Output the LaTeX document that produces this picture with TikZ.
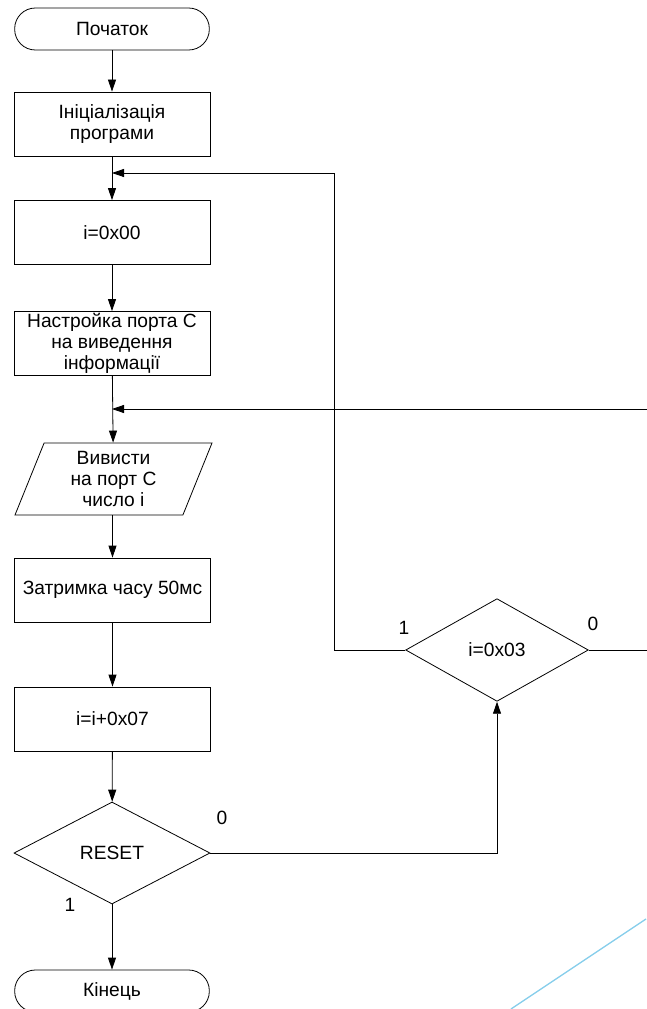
\documentclass[tikz,border=0pt]{standalone}
\usepackage{fontspec}
\setmainfont{Liberation Sans}
\usetikzlibrary{shapes.geometric,arrows.meta}

\begin{document}
\begin{tikzpicture}[x=0.75pt,y=-0.75pt,
    font=\fontsize{14.4}{15.5}\selectfont,
    every path/.style={line width=0.6pt},
    blok/.style={draw, rectangle, minimum width=147pt, minimum height=48pt, align=center, inner sep=0pt},
    termin/.style={draw, rectangle, rounded corners=15.5pt, minimum width=146pt, minimum height=31.5pt, inner sep=0pt},
    vyvid/.style={draw, trapezium, trapezium left angle=62, trapezium right angle=118, trapezium stretches body,
        minimum width=147.75pt, minimum height=54pt, align=center, inner sep=0pt},
    umova/.style={draw, diamond, minimum width=147pt, minimum height=76.5pt, inner sep=0pt},
    strilka/.style={-{Triangle[length=9pt,width=6pt]}},
    mitka/.style={inner sep=0pt}]
    \useasboundingbox (0,0) rectangle (646,1009);

    % Блоки основної гілки
    \node[termin] (start) at (112,29) {Початок};
    \node[blok] (init) at (112,124) {Ініціалізація\\програми};
    \node[blok] (nul) at (112,232.5) {i=0x00};
    \node[blok] (port) at (112,343.5) {Настройка порта С\\на виведення\\інформації};
    \node[vyvid] (out) at (113.5,479) {Вивисти\\на порт С\\число і};
    \node[blok] (delay) at (112.5,590) {Затримка часу 50мс};
    \node[blok] (add) at (112.5,719) {i=i+0x07};
    \node[umova] (reset) at (112,853) {RESET};
    \node[termin] (kin) at (112,991) {Кінець};

    % Перевірка i
    \node[umova, minimum width=137pt, minimum height=77pt] (cmp) at (497,650) {i=0x03};

    % Мітки виходів
    \node[mitka] (r0) at (222,818) {0};
    \node[mitka] (r1) at (70,905) {1};
    \node[mitka] (c1) at (404,628) {1};
    \node[mitka] (c0) at (593,624) {0};

    % Точки з'єднання
    \coordinate (jn1) at (112,173);
    \coordinate (jn2) at (112,409);
    \coordinate (loop1) at (334,173);
    \coordinate (loop2) at (652,409);

    % Зв'язки
    \draw[strilka] (start) -- (init);
    \draw[strilka] (init) -- (nul);
    \draw[strilka] (nul) -- (port);
    \draw[strilka] (port) -- (out);
    \draw[strilka] (out.south -| delay.north) -- (delay);
    \draw[strilka] (delay) -- (add);
    \draw[strilka] (add) -- (reset);
    \draw[strilka] (reset) -- (kin);
    \draw[strilka] (reset.east) -| (cmp.south);
    \draw[strilka] (cmp.west) -| (loop1) -- (jn1);
    \draw[strilka] (cmp.east) -| (loop2) -- (jn2);

    % Блакитна лінія внизу
    \draw[color={rgb,255:red,135;green,206;blue,235}, line width=1pt] (511,1009) -- (646,919);
\end{tikzpicture}
\end{document}
